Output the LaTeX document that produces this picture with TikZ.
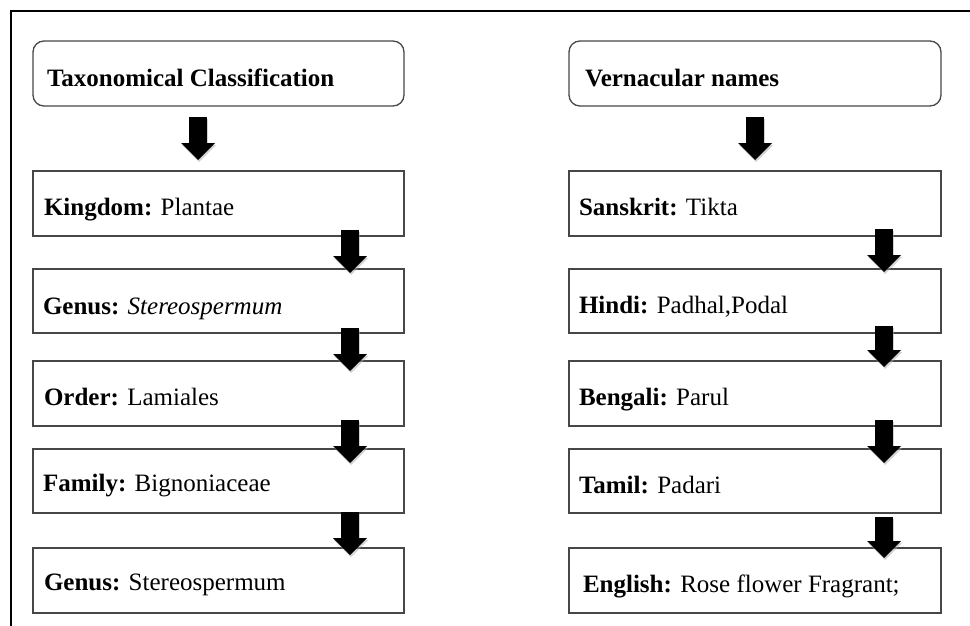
\documentclass[tikz,border=0pt]{standalone}
\usepackage{fontspec}
\setmainfont{Liberation Serif}
\usetikzlibrary{arrows.meta,calc}
\tikzset{
  box/.style={draw=black!72, line width=1.3pt, inner sep=0pt, outer sep=0pt, anchor=north west, minimum height=65pt},
  hbox/.style={box, rounded corners=11pt},
  txt/.style={font=\fontsize{25pt}{29pt}\selectfont, inner sep=0pt, outer sep=0pt, anchor=base west},
  barrow/.style={line width=18pt, black, -{Triangle[length=17pt,width=34pt,line width=0pt]}},
  bshadow/.style={line width=18pt, black!35, opacity=0.5, -{Triangle[length=17pt,width=34pt,line width=0pt]}, transform canvas={xshift=1pt,yshift=-2pt}},
  frame/.style={line width=2.5pt, black}
}
\begin{document}
\begin{tikzpicture}[x=1pt,y=-1pt]
\useasboundingbox (0,0) rectangle (970,626);
% outer frame
\draw[frame] (11,626) -- (11,11) -- (970,11);

% left column
\node[hbox, minimum width=371pt] (hl) at (33,41) {};
\node[box, minimum width=371pt] (k) at (33,171) {};
\node[box, minimum width=371pt, minimum height=64pt] (g1) at (33,269) {};
\node[box, minimum width=371pt] (o) at (33,361) {};
\node[box, minimum width=371pt, minimum height=64pt] (f) at (33,449) {};
\node[box, minimum width=371pt] (g2) at (33,548) {};

% right column
\node[hbox, minimum width=372pt] (hr) at (569,41) {};
\node[box, minimum width=372pt] (sa) at (569,171) {};
\node[box, minimum width=372pt, minimum height=64pt] (hi) at (569,269) {};
\node[box, minimum width=372pt] (be) at (569,361) {};
\node[box, minimum width=372pt, minimum height=64pt] (ta) at (569,449) {};
\node[box, minimum width=372pt] (en) at (569,548) {};

% texts
\node[txt] (thl) at ([xshift=14pt,yshift=-13.5pt]hl.west) {\textbf{Taxonomical Classification}};
\node[txt] (tk)  at ([xshift=11pt,yshift=-12pt]k.west)  {\textbf{Kingdom:} Plantae};
\node[txt] (tg1) at ([xshift=10pt,yshift=-13pt]g1.west) {\textbf{Genus:} \textit{Stereospermum}};
\node[txt] (to)  at ([xshift=11pt,yshift=-12pt]o.west)  {\textbf{Order:} Lamiales};
\node[txt] (tf)  at ([xshift=10pt,yshift=-10pt]f.west)  {\textbf{Family:} Bignoniaceae};
\node[txt] (tg2) at ([xshift=11pt,yshift=-10pt]g2.west) {\textbf{Genus:} Stereospermum};

\node[txt] (thr) at ([xshift=16pt,yshift=-13pt]hr.west) {\textbf{Vernacular names}};
\node[txt] (tsa) at ([xshift=10pt,yshift=-12pt]sa.west) {\textbf{Sanskrit:} Tikta};
\node[txt] (thi) at ([xshift=10pt,yshift=-12pt]hi.west) {\textbf{Hindi:} Padhal,Podal};
\node[txt] (tbe) at ([xshift=10pt,yshift=-12pt]be.west) {\textbf{Bengali:} Parul};
\node[txt] (tta) at ([xshift=10pt,yshift=-12pt]ta.west) {\textbf{Tamil:} Padari};
\node[txt] (ten) at ([xshift=14pt,yshift=-12pt]en.west) {\textbf{English:} Rose flower Fragrant;};

% arrow shadows
\foreach \a/\b/\dx/\s/\t in {hl/k/-20.5/11/11, hr/sa/0/11/11}{
  \draw[bshadow] ([xshift=\dx pt,yshift=-\s pt]\a.south) -- ([xshift=\dx pt,yshift=\t pt]\b.north);
}
\foreach \a/\b/\dx/\s/\t in {k/g1/-54/6/4, g1/o/-54/5/10, o/f/-54/6/14, f/g2/-54/1/7,
                              sa/hi/-57/7/3, hi/be/-57/7/6, be/ta/-57/6/14, ta/en/-57/-4/10}{
  \draw[bshadow] ([xshift=\dx pt,yshift=\s pt]\a.south east) -- ([xshift=\dx pt,yshift=-\t pt]\b.north east);
}
% arrows
\foreach \a/\b/\dx/\s/\t in {hl/k/-20.5/11/11, hr/sa/0/11/11}{
  \draw[barrow] ([xshift=\dx pt,yshift=-\s pt]\a.south) -- ([xshift=\dx pt,yshift=\t pt]\b.north);
}
\foreach \a/\b/\dx/\s/\t in {k/g1/-54/6/4, g1/o/-54/5/10, o/f/-54/6/14, f/g2/-54/1/7,
                              sa/hi/-57/7/3, hi/be/-57/7/6, be/ta/-57/6/14, ta/en/-57/-4/10}{
  \draw[barrow] ([xshift=\dx pt,yshift=\s pt]\a.south east) -- ([xshift=\dx pt,yshift=-\t pt]\b.north east);
}
\end{tikzpicture}
\end{document}
